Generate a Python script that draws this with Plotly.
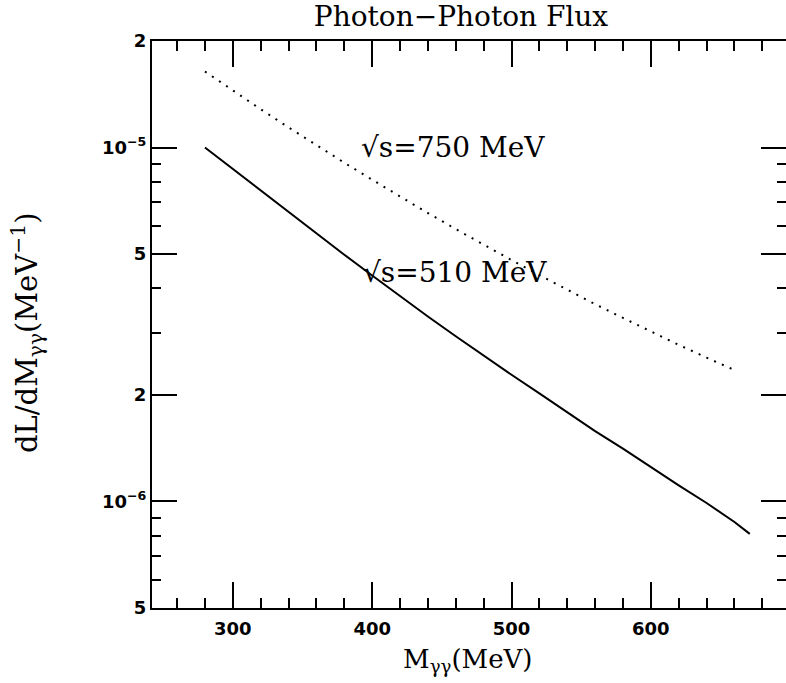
import math
import plotly.graph_objects as go

# photon-photon luminosity spectra, dL/dM (MeV^-1) vs invariant mass M (MeV)
m_510 = [280, 300, 320, 340, 360, 380, 400, 420, 440, 460, 480, 500,
         520, 540, 560, 580, 600, 620, 640, 660, 671]
flux_510 = [1.00e-5, 8.69e-6, 7.55e-6, 6.58e-6, 5.71e-6, 4.98e-6, 4.35e-6,
            3.80e-6, 3.33e-6, 2.93e-6, 2.58e-6, 2.28e-6, 2.02e-6, 1.79e-6,
            1.58e-6, 1.41e-6, 1.25e-6, 1.11e-6, 0.99e-6, 0.875e-6, 0.81e-6]

m_750 = [280, 300, 320, 340, 360, 380, 400, 420, 440, 460, 480, 500,
         520, 540, 560, 580, 600, 620, 640, 658]
flux_750 = [1.64e-5, 1.447e-5, 1.283e-5, 1.140e-5, 1.015e-5, 9.06e-6,
            8.11e-6, 7.27e-6, 6.53e-6, 5.88e-6, 5.31e-6, 4.81e-6, 4.36e-6,
            3.96e-6, 3.61e-6, 3.30e-6, 3.02e-6, 2.77e-6, 2.55e-6, 2.37e-6]

x_major = [300, 400, 500, 600]
x_minor = [260, 280, 320, 340, 360, 380, 420, 440, 460, 480,
           520, 540, 560, 580, 620, 640, 660, 680]
y_major = [5e-7, 1e-6, 2e-6, 5e-6, 1e-5, 2e-5]
y_major_text = ["5", "10<sup>−6</sup>", "2", "5", "10<sup>−5</sup>", "2"]
y_minor = [6e-7, 7e-7, 8e-7, 9e-7, 3e-6, 4e-6, 6e-6, 7e-6, 8e-6, 9e-6]

x_range = [242, 697]
y_range = [5e-7, 2e-5]

label_510 = "√s=510 MeV"
label_750 = "√s=750 MeV"

fig = go.Figure()
fig.add_trace(go.Scatter(
    x=m_750, y=flux_750, mode="lines",
    line=dict(color="black", width=2, dash="2px,6.5px"),
    hoverinfo="skip", showlegend=False))
fig.add_trace(go.Scatter(
    x=m_510, y=flux_510, mode="lines",
    line=dict(color="black", width=2),
    hoverinfo="skip", showlegend=False))
# invisible carrier for the right-hand tick axis
fig.add_trace(go.Scatter(
    x=m_510, y=flux_510, mode="lines", yaxis="y2",
    line=dict(width=0), opacity=0,
    hoverinfo="skip", showlegend=False))

serif = "DejaVu Serif"
bold_sans = dict(family="DejaVu Sans", size=18, color="black", weight="bold")

fig.update_layout(
    width=786, height=683,
    margin=dict(l=152, r=0, t=41, b=75),
    paper_bgcolor="white", plot_bgcolor="white",
    xaxis=dict(
        range=x_range, showgrid=False, zeroline=False,
        showline=True, linecolor="black", linewidth=2, mirror="ticks",
        ticks="inside", ticklen=26, tickwidth=2, tickcolor="black",
        tickmode="array", tickvals=x_major,
        ticktext=[str(v) for v in x_major],
        tickfont=bold_sans, ticklabelstandoff=3,
        minor=dict(tickmode="array", tickvals=x_minor, ticks="inside",
                   ticklen=10, tickwidth=2, tickcolor="black", showgrid=False),
    ),
    yaxis=dict(
        type="log", range=[math.log10(y_range[0]), math.log10(y_range[1])],
        showgrid=False, zeroline=False,
        showline=True, linecolor="black", linewidth=2, mirror=False,
        ticks="inside", ticklen=25, tickwidth=2, tickcolor="black",
        tickmode="array", tickvals=y_major, ticktext=y_major_text,
        tickfont=bold_sans, ticklabelstandoff=0,
        minor=dict(tickmode="array", tickvals=y_minor, ticks="inside",
                   ticklen=9, tickwidth=2, tickcolor="black", showgrid=False),
    ),
    yaxis2=dict(
        type="log", range=[math.log10(y_range[0]), math.log10(y_range[1])],
        overlaying="y", side="right", anchor="x",
        showgrid=False, zeroline=False, showline=False,
        ticks="inside", ticklen=25, tickwidth=2, tickcolor="black",
        tickmode="array", tickvals=y_major, showticklabels=False,
        minor=dict(tickmode="array", tickvals=y_minor, ticks="inside",
                   ticklen=9, tickwidth=2, tickcolor="black", showgrid=False),
    ),
    title=dict(text="Photon−Photon Flux", x=309 / 634, xref="paper",
               xanchor="center",
               y=1 - 16 / 683, yref="container", yanchor="middle",
               font=dict(family=serif, size=28, color="black")),
    annotations=[
        dict(text="M<sub>γγ</sub>(MeV)", xref="paper", yref="paper",
             x=315 / 634, y=-52 / 567, xanchor="center", yanchor="middle",
             showarrow=False,
             font=dict(family=serif, size=26, color="black")),
        dict(text="dL/dM<sub>γγ</sub>(MeV<sup>−1</sup>)", xref="paper",
             yref="paper", x=-125 / 634, y=275 / 567, textangle=-90,
             xanchor="center", yanchor="middle", showarrow=False,
             font=dict(family=serif, size=29, color="black")),
        dict(text=label_750, xref="x", yref="y", x=390.5, y=-5.0,
             xanchor="left", yanchor="middle", showarrow=False,
             font=dict(family=serif, size=28, color="black")),
        dict(text=label_510, xref="x", yref="y", x=392.0, y=-5.352,
             xanchor="left", yanchor="middle", showarrow=False,
             font=dict(family=serif, size=28, color="black")),
    ],
)

fig.write_html("out.html")
